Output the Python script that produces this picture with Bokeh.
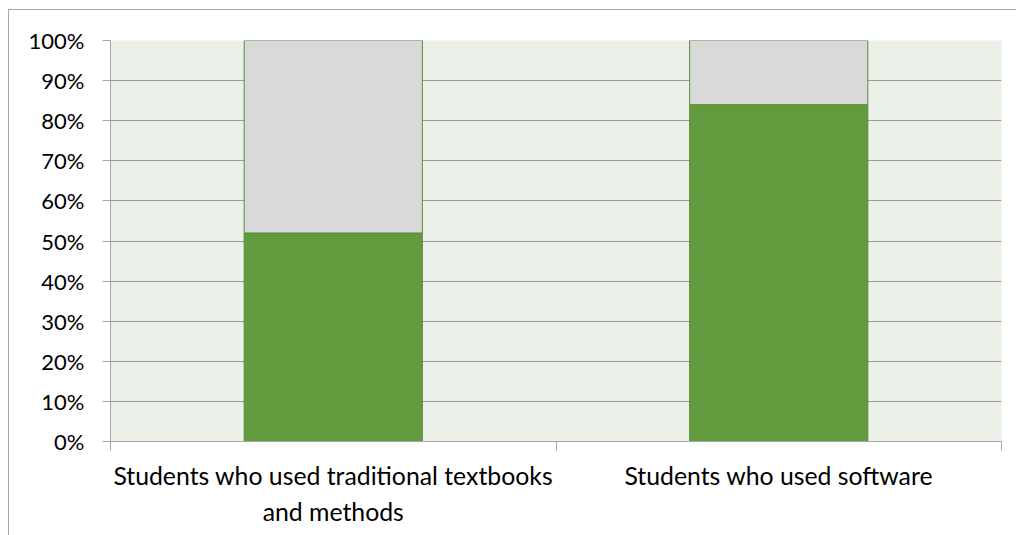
from bokeh.plotting import figure
from bokeh.models import Range1d, FixedTicker, ColumnDataSource, InlineStyleSheet
from bokeh.embed import file_html
from bokeh.resources import INLINE

categories = ["Students who used traditional textbooks\nand methods", "Students who used software"]
positive = [0.52, 0.84]
remainder = [0.48, 0.16]
y_ticks = [0.0, 0.1, 0.2, 0.3, 0.4, 0.5, 0.6, 0.7, 0.8, 0.9, 1.0]
y_labels = ["0%", "10%", "20%", "30%", "40%", "50%", "60%", "70%", "80%", "90%", "100%"]

xpos = [i + 0.5 for i in range(len(categories))]
source = ColumnDataSource(dict(x=xpos, positive=positive, remainder=remainder))

p = figure(frame_width=891, frame_height=401, output_backend="svg", toolbar_location=None,
           x_range=Range1d(0, len(categories)), y_range=Range1d(0, 1))
p.min_border_left = 110
p.min_border_right = 7
p.min_border_top = 40
p.min_border_bottom = 86
p.background_fill_color = "#EBF1E9"
p.border_fill_color = "white"
p.outline_line_color = None

# outer chart-area frame (decoration only)
p.stylesheets = [InlineStyleSheet(css=(
    ":host::after { content: ''; position: absolute; left: 8px; top: 9px; right: -20px; bottom: -20px;"
    " border-left: 1px solid #A6A6A6; border-top: 1px solid #A6A6A6; pointer-events: none; }"
))]

p.vbar_stack(["positive", "remainder"], x="x", width=0.4, source=source,
             fill_color=["#629A3E", "#D9D9D9"], line_color="#5B8C3A", line_width=1)

# y axis
p.yaxis.ticker = FixedTicker(ticks=y_ticks)
p.yaxis.major_label_overrides = {t: l for t, l in zip(y_ticks, y_labels)}
p.yaxis.axis_line_color = "#A6A6A6"
p.yaxis.major_tick_line_color = "#A6A6A6"
p.yaxis.major_tick_out = 8
p.yaxis.major_tick_in = 0
p.yaxis.minor_tick_line_color = None
p.yaxis.major_label_standoff = 18
p.yaxis.major_label_text_font = "Lato"
p.yaxis.major_label_text_font_size = "22px"
p.yaxis.major_label_text_color = "#000000"

# x axis
p.xaxis.ticker = FixedTicker(ticks=xpos, minor_ticks=[float(i) for i in range(len(categories) + 1)])
p.xaxis.major_label_overrides = {x: c for x, c in zip(xpos, categories)}
p.xaxis.axis_line_color = "#A6A6A6"
p.xaxis.major_tick_line_color = None
p.xaxis.minor_tick_line_color = "#A6A6A6"
p.xaxis.minor_tick_out = 9
p.xaxis.minor_tick_in = 0
p.xaxis.major_label_standoff = 10
p.xaxis.major_label_text_font = "Lato"
p.xaxis.major_label_text_font_size = "24.8px"
p.xaxis.major_label_text_color = "#000000"
p.xaxis.major_label_text_line_height = 1.25

p.xgrid.grid_line_color = None
p.ygrid.grid_line_color = "#9A9A9A"

open("out.html", "w").write(file_html(p, INLINE))
